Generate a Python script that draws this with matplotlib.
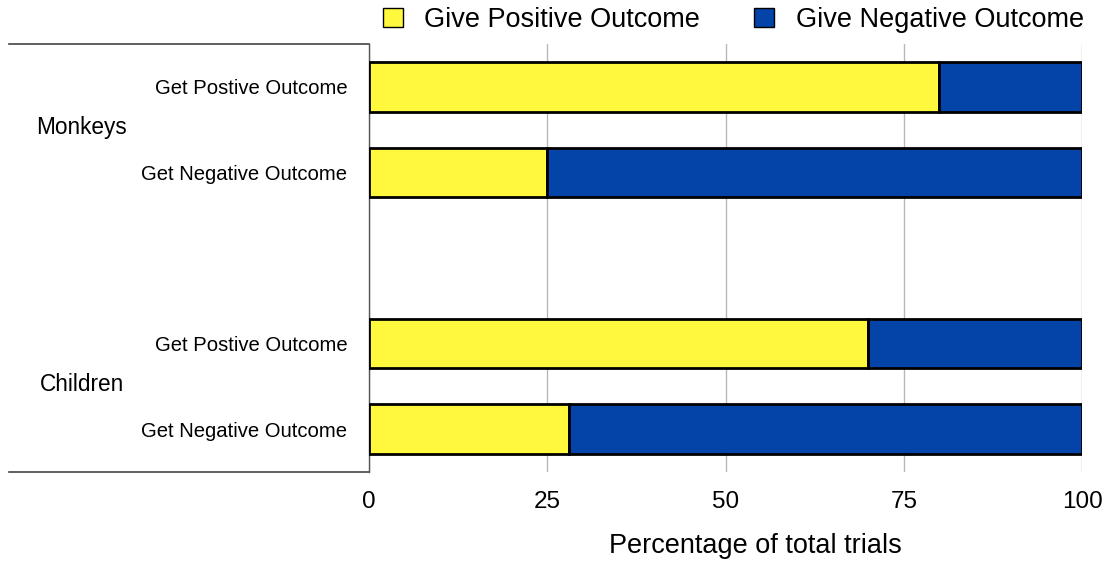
import matplotlib
matplotlib.use("Agg")
import matplotlib.pyplot as plt
from matplotlib.patches import Patch

plt.rcParams['font.family'] = ['Liberation Sans', 'DejaVu Sans']

groups = ["Monkeys", "Children"]
categories = ["Get Postive Outcome", "Get Negative Outcome",
              "Get Postive Outcome", "Get Negative Outcome"]
positive = [80, 25, 70, 28]
negative = [20, 75, 30, 72]
series_names = ["Give Positive Outcome", "Give Negative Outcome"]
xticks = [0, 25, 50, 75, 100]

YELLOW = "#fff83c"
BLUE = "#0443a7"

fig = plt.figure(figsize=(11.12, 5.64), dpi=100)
ax = fig.add_axes([369/1112, 1 - 472/564, 713/1112, 428/564])

ypos = [0, 1, 3, 4]
h = 0.58
ax.barh(ypos, positive, height=h, color=YELLOW, edgecolor="black", linewidth=2.0, zorder=3)
ax.barh(ypos, negative, left=positive, height=h, color=BLUE, edgecolor="black", linewidth=2.0, zorder=3)

ax.set_xlim(0, 100)
ax.set_ylim(4.5, -0.5)
ax.set_xticks(xticks)
ax.set_xticklabels([str(t) for t in xticks], fontsize=17.5)
ax.tick_params(axis='x', length=0, pad=14)
ax.set_yticks(ypos)
ax.set_yticklabels(categories, fontsize=14.6)
ax.tick_params(axis='y', length=0, pad=15.5)
ax.xaxis.grid(True, color="#b8b8b8", linewidth=1.0, zorder=0)
ax.set_axisbelow(True)
for s in ["top", "right", "bottom"]:
    ax.spines[s].set_visible(False)
ax.spines["left"].set_color("#555555")
ax.spines["left"].set_linewidth(1.0)

ax.set_xlabel("Percentage of total trials", fontsize=19.5)
ax.xaxis.set_label_coords((755 - 369) / 713, -(546 - 472) / 428)
ax.xaxis.label.set_va("center")

# left bracket lines
for yy in [0, 1]:
    ax.plot([-0.505, 0], [yy, yy], transform=ax.transAxes, clip_on=False,
            color="#444444", linewidth=1.2)

# group labels
for g, yc in zip(groups, [0.47, 3.48]):
    ax.text(-0.403, yc, g, transform=ax.get_yaxis_transform(), fontsize=16.3,
            ha="center", va="center")

handles = [Patch(facecolor=YELLOW, edgecolor="black", linewidth=1.0),
           Patch(facecolor=BLUE, edgecolor="black", linewidth=1.0)]
fig.legend(handles, series_names, loc="center", bbox_to_anchor=(733.5/1112, 1 - 20/564),
           ncol=2, frameon=False, fontsize=19.5, handlelength=0.74, handleheight=0.74,
           handletextpad=0.78, columnspacing=2.0, borderpad=0)

fig.savefig("out.png", dpi=100)
